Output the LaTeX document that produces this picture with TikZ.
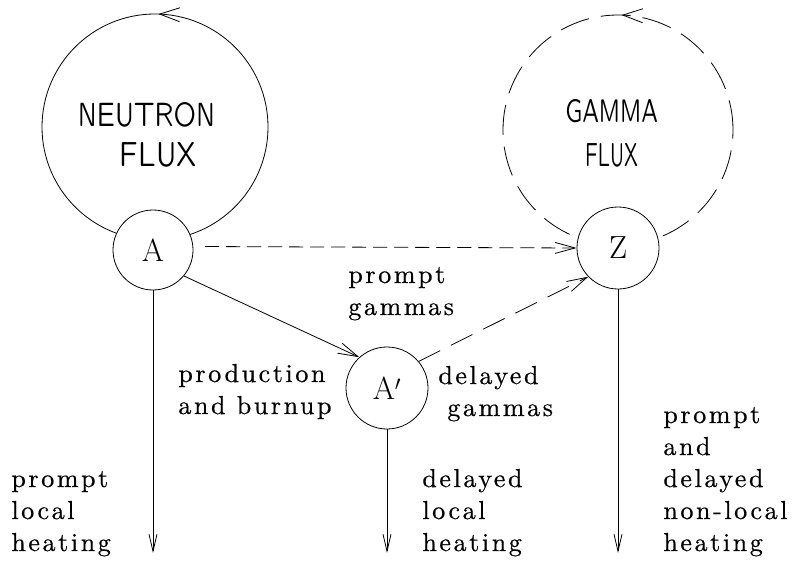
\documentclass[tikz,border=0pt]{standalone}
\usepackage{fontspec}
\usetikzlibrary{arrows.meta,decorations.markings}
% light sans for the flux titles, spaced serif for the labels
\newfontfamily\plotfont{lmsansquot8-regular.otf}
\newfontfamily\labfont{lmroman10-regular.otf}[LetterSpace=10,FakeBold=0.5]

\begin{document}
\begin{tikzpicture}[x=1pt,y=-1pt,
  line width=0.8pt,
  flow/.style={-{Straight Barb[length=20pt,width=11pt]}},
  drop/.style={-{Straight Barb[length=17pt,width=8pt]}},
  state/.style={circle,draw,fill=white,minimum size=80pt,inner sep=0pt,
    font=\fontsize{32}{32}\selectfont},
  lab/.style={inner sep=0pt,font=\labfont\fontsize{26}{32}\selectfont},
  title/.style={inner sep=0pt,anchor=base},
  loopmark/.style={postaction={decorate},
    decoration={markings,mark=at position 0.245 with
      {\arrow{Straight Barb[length=20pt,width=14pt]}}}},
  gdash/.style={dash pattern=on 30pt off 12pt},
]
\useasboundingbox (0,0) rectangle (810,561);

% flux loops
\draw[loopmark] (155,127) circle[radius=113pt];
\draw[gdash,loopmark] (618,130) circle[radius=115pt];

% loop titles
\node[title] (nt1) at (146.5,127) {\resizebox{137pt}{24pt}{\plotfont NEUTRON}};
\node[title] (nt2) at (158.5,167) {\resizebox{77pt}{24pt}{\plotfont FLUX}};
\node[title] (gt1) at (611.5,123) {\resizebox{93pt}{23pt}{\plotfont GAMMA}};
\node[title] (gt2) at (611.5,167) {\resizebox{53pt}{23pt}{\plotfont FLUX}};

% states
\node[state] (A) at (153,250) {A};
\node[state,minimum size=82pt] (Ap) at (387,388) {A$'$};
\node[state,minimum size=82pt] (Z) at (618,248) {Z};

% transfers between states
\draw[flow,dash pattern=on 14pt off 7pt,shorten <=12pt] (A.5) -- (Z.180);
\draw[flow] (A.-40) -- (Ap.132);
\draw[flow,dash pattern=on 24pt off 12pt] (Ap.40) -- (Z.224);

% heat deposition
\coordinate (hA) at (153,553);
\coordinate (hAp) at (387,553);
\coordinate (hZ) at (618,553);
\draw[drop] (A) -- (hA);
\draw[drop] (Ap) -- (hAp);
\draw[drop] (Z) -- (hZ);

% labels
\node[lab,anchor=base west] (lpg) at (348,315)
  {\begin{tabular}[b]{@{}l@{}}prompt\\gammas\end{tabular}};
\node[lab,anchor=base west] (lpb) at (178,414)
  {\begin{tabular}[b]{@{}l@{}}production\\and burnup\end{tabular}};
\node[lab,anchor=base west] (ldg) at (438,416)
  {\begin{tabular}[b]{@{}l@{}}delayed\\\hspace*{9pt}gammas\end{tabular}};
\node[lab,anchor=base west] (lh1) at (11,551)
  {\begin{tabular}[b]{@{}l@{}}prompt\\local\\heating\end{tabular}};
\node[lab,anchor=base west] (lh2) at (422,551)
  {\begin{tabular}[b]{@{}l@{}}delayed\\local\\heating\end{tabular}};
\node[lab,anchor=base west] (lh3) at (663,551)
  {\begin{tabular}[b]{@{}l@{}}prompt\\and\\delayed\\non-local\\heating\end{tabular}};
\end{tikzpicture}
\end{document}
